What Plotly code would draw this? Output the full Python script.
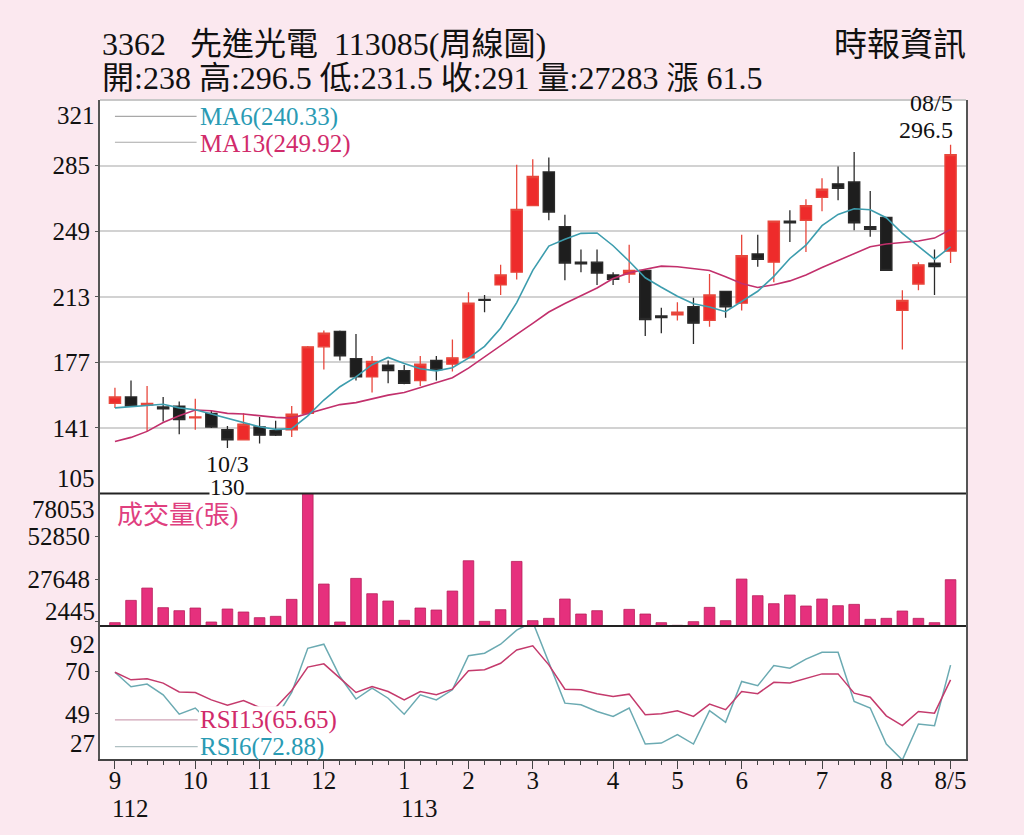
import plotly.graph_objects as go

# weekly candles, index 0 = first week of Sep (112)
opens = [154.5, 158, 153.5, 152.5, 153, 146.5, 149, 140, 134.5, 141.5, 139.5, 140, 149,
         185.5, 194, 179, 169, 175.5, 172.5, 167, 178, 176, 179.5, 211.5, 219.5, 226.5,
         263, 281.5, 251.5, 232, 232, 225, 225.5, 227.5, 202.5, 203, 207.5, 200, 216,
         209.5, 236.5, 232, 254.5, 255, 267.5, 275, 276, 251.5, 256.5, 205.5, 220, 231.5, 238]
highs = [163, 167, 164, 158, 155.5, 157, 150.5, 142, 149, 147, 145, 153, 186,
         194.5, 194.5, 192.5, 180.5, 178, 175.5, 180.5, 180.5, 189.5, 215.5, 214, 230.5, 285.5,
         288.5, 289.5, 258, 239, 239, 226.5, 241.5, 227.5, 207, 210, 212.5, 225.5, 216,
         247, 247, 254.5, 260.5, 266.5, 278, 284.5, 292.5, 271, 256.5, 216.5, 232, 239, 296.5]
lows = [152, 152.5, 139, 144.5, 137.5, 140, 141, 130, 134.5, 132.5, 136.5, 136, 148.5,
        173, 178, 167, 160.5, 165.5, 165, 164, 167, 172, 179, 204.5, 214, 222.5,
        263, 255, 222, 226.5, 219.5, 219.5, 220.5, 191.5, 193, 200, 187, 196.5, 201.5,
        205.5, 229.5, 221, 243, 237.5, 260, 266, 249.5, 246, 227.5, 184, 216.5, 214, 231.5]
closes = [158, 153, 154.5, 151.5, 145.5, 147, 141.5, 134.5, 143, 137, 137, 148.5, 185.5,
          193, 180.5, 169, 177.5, 172.5, 165.5, 176, 173, 179.5, 209.5, 211, 225, 261,
          279, 259.5, 231.5, 231, 226, 222.5, 227.5, 200.5, 201.5, 204.5, 198.5, 214, 207.5,
          235.5, 233.5, 254.5, 253.5, 263, 272, 272.5, 253.5, 250, 227.5, 211, 230.5, 229.5, 291]
volume = [1960, 15100, 22350, 10790, 9020, 10590, 2350, 10000, 8240, 4900, 5690, 15690, 78053,
          24710, 2350, 28040, 19020, 14710, 3330, 10590, 9410, 20590, 38440, 2750, 9610, 38040,
          3140, 4510, 15880, 7060, 9020, 0, 9800, 7060, 1960, 390, 2550, 10980, 3140,
          27650, 17850, 13140, 18240, 11770, 15880, 11960, 12750, 3920, 4510, 8820, 4510, 1960, 27283]
ma6 = [152, 152.8, 153.2, 154, 152, 151, 148.6, 146.4, 144, 141.6, 140.2, 140.6, 147.6,
       156.3, 163.6, 169, 175.7, 179.7, 176.3, 173.5, 172.3, 174, 179.3, 185.8, 195.7, 209.8,
       227.5, 240.8, 244.5, 247.8, 248, 241, 232.5, 223.4, 218.2, 213.3, 209.2, 207.4, 204.8,
       210.6, 216, 224.2, 234, 241.3, 252, 258.2, 261.3, 260.8, 256.4, 247.8, 240.8, 233.6, 240.33]
ma13 = [133.5, 135.8, 139.1, 144, 147.7, 150.8, 150.4, 149, 148.6, 147.7, 146.8, 146.4, 148.9,
        151.6, 153.8, 154.9, 156.9, 159.0, 160.4, 163.0, 166.0, 168.6, 173.8, 180.1, 186.0, 192.3,
        198.4, 204.6, 209.3, 213.4, 217.8, 223.0, 226.1, 228.1, 229.8, 229.5, 228.3, 227.4, 224.0,
        220.3, 218.1, 219.6, 221.7, 225.0, 229.0, 232.8, 237.0, 240.5, 242.0, 242.6, 243.6, 245.2, 249.92]
rsi13 = [69.4, 65.7, 66.2, 64.1, 59.8, 59.5, 55.9, 53.3, 55.6, 52.2, 52.2, 60.5, 71.9,
         73.5, 66.5, 59.5, 62.4, 60.0, 55.9, 60.0, 58.4, 61.1, 70.1, 70.6, 73.8, 80.3,
         82.3, 73.0, 61.1, 60.8, 58.9, 57.6, 58.7, 48.6, 49.1, 50.6, 47.8, 53.8, 51.1,
         60.0, 58.9, 64.5, 64.1, 66.5, 68.6, 68.6, 59.2, 57.2, 48.1, 43.3, 50.2, 49.4, 65.65]
rsi6 = [69.4, 62.3, 63.6, 58.4, 48.9, 51.9, 44, 38, 46, 42, 46.8, 59.5, 81.1,
        83.1, 67.3, 56.3, 61.6, 56.7, 48.9, 58.4, 55.9, 60.8, 77.5, 78.7, 83.1, 90,
        94, 74.6, 54.3, 53.5, 50.2, 47.8, 51.9, 34.3, 34.8, 38.9, 34.3, 50.6, 44.9,
        64.9, 62.8, 72.7, 71.4, 75.8, 79.2, 79.2, 55.1, 51.9, 34.3, 26.5, 44.1, 43.3, 72.88]

weeks = list(range(len(closes)))
month_idx = [0, 5, 9, 13, 18, 22, 26, 31, 35, 39, 44, 48, 52]
month_text = ["9", "10", "11", "12", "1", "2", "3", "4", "5", "6", "7", "8", "8/5"]
year_idx = [0, 18]
year_text = ["112", "113"]

price_ticks = [105, 141, 177, 213, 249, 285, 321]
vol_ticks = [2445, 27648, 52850, 78053]
rsi_ticks = [27, 49, 70, 92]

low_idx, low_label = 7, "10/3"
high_label = "08/5"

BG = "#FBE8EF"
RED = "#EE2B2B"
TEAL = "#3D9DAE"
MAGENTA = "#C2306C"
FONT = "Liberation Serif, Noto Sans CJK TC, serif"

fig = go.Figure()

fig.add_trace(go.Candlestick(
    x=weeks, open=opens, high=highs, low=lows, close=closes,
    increasing=dict(line=dict(color="#E8473C", width=1.3), fillcolor=RED),
    decreasing=dict(line=dict(color="#2A2A2A", width=1.3), fillcolor="#1E1E1E"),
    whiskerwidth=0, xaxis="x", yaxis="y", showlegend=False))
fig.add_trace(go.Scatter(x=weeks, y=ma13, mode="lines", yaxis="y",
                         line=dict(color=MAGENTA, width=1.6), showlegend=False))
fig.add_trace(go.Scatter(x=weeks, y=ma6, mode="lines", yaxis="y",
                         line=dict(color=TEAL, width=1.6), showlegend=False))

fig.add_trace(go.Bar(x=weeks, y=volume, yaxis="y2",
                     marker=dict(color="#E6307D", line=dict(color="#B8205A", width=0.8)),
                     showlegend=False))

fig.add_trace(go.Scatter(x=weeks, y=rsi6, mode="lines", yaxis="y3",
                         line=dict(color="#6BAAB2", width=1.5), showlegend=False))
fig.add_trace(go.Scatter(x=weeks, y=rsi13, mode="lines", yaxis="y3",
                         line=dict(color="#C43A6C", width=1.5), showlegend=False))

d_rsi = 133 / 659
d_vol = 265.5 / 659
axis_font = dict(family=FONT, size=25, color="#111")

ycommon = dict(showline=True, linecolor="#555", linewidth=2, mirror=True,
               ticks="outside", ticklen=3, tickcolor="#555", zeroline=False,
               tickfont=axis_font, fixedrange=True)

# the page body has an 8px margin, margins below are set so the plot sits at x 100-966, y 100-759
fig.update_layout(
    width=1024, height=835,
    margin=dict(l=92, r=66, t=92, b=84),
    paper_bgcolor=BG, plot_bgcolor="white",
    bargap=0.34, boxgap=0.3, boxgroupgap=0,
    font=dict(family=FONT, color="#111"),
    xaxis=dict(range=[-0.93, 52.96], anchor="y3", tickmode="array",
               tickvals=month_idx, ticktext=month_text, ticks="outside", ticklen=8,
               ticklabelstandoff=-10,
               tickcolor="#444", showline=True, linecolor="#444", linewidth=2,
               showgrid=False, zeroline=False, tickfont=axis_font,
               minor=dict(tickmode="linear", tick0=0, dtick=1, ticks="outside",
                          ticklen=4, tickcolor="#444"),
               rangeslider=dict(visible=False)),
    yaxis=dict(domain=[d_vol, 1], range=[price_ticks[0], price_ticks[-1]],
               tickvals=price_ticks[1:-1], showgrid=True, gridcolor="#D2D2D2",
               gridwidth=2, **ycommon),
    yaxis2=dict(domain=[d_rsi, d_vol], range=[0, vol_ticks[-1]],
                tickvals=vol_ticks[:-1], ticktext=[""] + [str(v) for v in vol_ticks[1:-1]],
                showgrid=False, **ycommon),
    yaxis3=dict(domain=[0, d_rsi], range=[rsi_ticks[0], rsi_ticks[-1]],
                tickvals=rsi_ticks[1:-1], showgrid=False, **ycommon),
)

shapes = [
    dict(type="line", xref="paper", yref="paper", x0=0, x1=1, y0=d_vol, y1=d_vol,
         line=dict(color="#222", width=2), layer="above"),
    dict(type="line", xref="paper", yref="paper", x0=0, x1=1, y0=d_rsi, y1=d_rsi,
         line=dict(color="#222", width=2), layer="above"),
    dict(type="line", xref="paper", yref="paper", x0=0, x1=1, y0=1, y1=1,
         line=dict(color="#C8C8C8", width=2), layer="above"),
    # white backing behind the RSI legend
    dict(type="rect", xref="x", yref="y3", x0=5.23, x1=14.2, y0=rsi_ticks[0], y1=52.8,
         fillcolor="white", line=dict(width=0), layer="above"),
    dict(type="line", xref="x", yref="y", x0=0, x1=5.08, y0=312, y1=312,
         line=dict(color="#A8A8A8", width=1.2)),
    dict(type="line", xref="x", yref="y", x0=0, x1=5.08, y0=297.8, y1=297.8,
         line=dict(color="#A8A8A8", width=1.2)),
    dict(type="line", xref="x", yref="y3", x0=0, x1=5.15, y0=46.1, y1=46.1,
         line=dict(color="#CFA3B6", width=1.2), layer="above"),
    dict(type="line", xref="x", yref="y3", x0=0, x1=5.15, y0=33, y1=33,
         line=dict(color="#AFC0C2", width=1.2), layer="above"),
]
fig.update_layout(shapes=shapes)

ann = []
# end labels of the y axes, kept inside the panels
for yref, val, anchor, shift in [("y", price_ticks[-1], "top", 0), ("y", price_ticks[0], "bottom", 0),
                                 ("y2", vol_ticks[-1], "top", 0), ("y2", vol_ticks[0], "bottom", -5),
                                 ("y3", rsi_ticks[-1], "top", -3), ("y3", rsi_ticks[0], "bottom", 0)]:
    ann.append(dict(xref="paper", x=0, xanchor="right", xshift=-3, yref=yref, y=val,
                    yanchor=anchor, yshift=shift, text=str(val), showarrow=False, font=axis_font))

for i, t in zip(year_idx, year_text):
    ann.append(dict(xref="x", x=i, xanchor="left", xshift=-5, yref="paper", y=0,
                    yanchor="middle", yshift=-49, text=t, showarrow=False, font=axis_font))

o, h, l, c, v = opens[-1], highs[-1], lows[-1], closes[-1], volume[-1]
chg = c - closes[-2]
head_font = dict(family=FONT, size=32, color="#111")
ann += [
    dict(xref="paper", x=0, xanchor="left", yref="paper", y=1 + 56 / 659, yanchor="middle",
         text="3362&nbsp;&nbsp;&nbsp;先進光電&nbsp;&nbsp;113085(周線圖)", showarrow=False,
         font=head_font),
    dict(xref="paper", x=0, xanchor="left", yref="paper", y=1 + 22 / 659, yanchor="middle",
         text=f"開:{o:g} 高:{h:g} 低:{l:g} 收:{c:g} 量:{v:g} 漲 {chg:g}", showarrow=False,
         font=head_font),
    dict(xref="paper", x=1.0025, xanchor="right", yref="paper", y=1 + 55 / 659, yanchor="middle",
         text="時報資訊", showarrow=False, font=dict(family=FONT, size=33, color="#111")),
    dict(xref="x", x=5.17, xanchor="left", yref="y", y=311.5, yanchor="middle",
         text=f"MA6({ma6[-1]:.2f})", showarrow=False,
         font=dict(family=FONT, size=25, color="#2A9BB4")),
    dict(xref="x", x=5.17, xanchor="left", yref="y", y=297, yanchor="middle",
         text=f"MA13({ma13[-1]:.2f})", showarrow=False,
         font=dict(family=FONT, size=25, color="#D12B6B")),
    dict(xref="x", x=5.17, xanchor="left", yref="y3", y=46.1, yanchor="middle",
         text=f"RSI13({rsi13[-1]:.2f})", showarrow=False,
         font=dict(family=FONT, size=25, color="#D12B6B")),
    dict(xref="x", x=5.17, xanchor="left", yref="y3", y=33, yanchor="middle",
         text=f"RSI6({rsi6[-1]:.2f})", showarrow=False,
         font=dict(family=FONT, size=25, color="#2A9BB4")),
    dict(xref="paper", x=0.017, xanchor="left", yref="y2 domain", y=1, yanchor="top",
         yshift=-5, text="成交量(張)", showarrow=False,
         font=dict(family=FONT, size=26, color="#E0407F")),
    dict(xref="x", x=low_idx, yref="y", y=lows[low_idx], yanchor="top", yshift=-1,
         text=low_label, showarrow=False, font=dict(family=FONT, size=24, color="#111")),
    dict(xref="x", x=low_idx, yref="y", y=lows[low_idx], yanchor="top", yshift=-26,
         text=f"{lows[low_idx]:g}", showarrow=False, bgcolor="white", borderpad=0,
         font=dict(family=FONT, size=23, color="#111")),
    dict(xref="x", x=weeks[-1], xanchor="right", xshift=4, yref="y", y=highs[-1],
         yanchor="bottom", yshift=0, text=f"{highs[-1]:g}", showarrow=False,
         font=dict(family=FONT, size=24, color="#111")),
    dict(xref="x", x=weeks[-1], xanchor="right", xshift=4, yref="y", y=highs[-1],
         yanchor="bottom", yshift=27, text=high_label, showarrow=False,
         font=dict(family=FONT, size=24, color="#111")),
]
fig.update_layout(annotations=ann)

fig.write_html("out.html", post_script=f"document.body.style.background='{BG}';")
